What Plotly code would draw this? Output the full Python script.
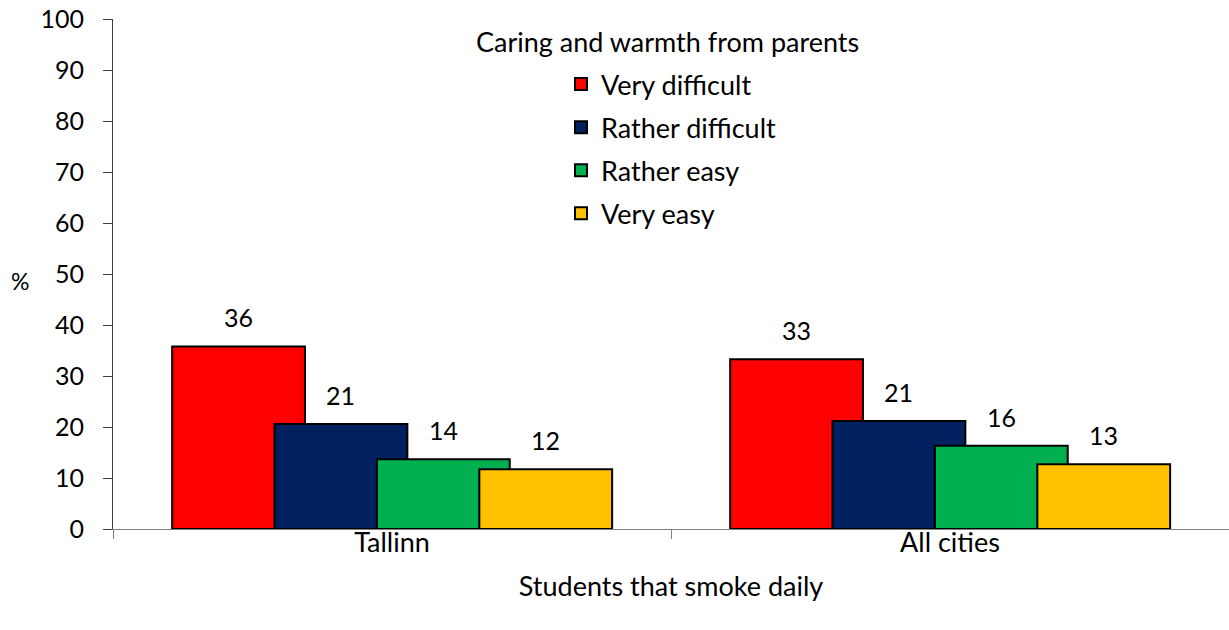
import plotly.graph_objects as go

categories = ["Tallinn", "All cities"]
series_names = ["Very difficult", "Rather difficult", "Rather easy", "Very easy"]
very_difficult = [35.8, 33.3]
rather_difficult = [20.6, 21.2]
rather_easy = [13.7, 16.3]
very_easy = [11.7, 12.7]
label_very_difficult = ["36", "33"]
label_rather_difficult = ["21", "21"]
label_rather_easy = ["14", "16"]
label_very_easy = ["12", "13"]

y_tick_values = list(range(0, 101, 10))
legend_title = "Caring and warmth from parents"
x_title = "Students that smoke daily"
y_title = "%"

values = [very_difficult, rather_difficult, rather_easy, very_easy]
labels = [label_very_difficult, label_rather_difficult, label_rather_easy, label_very_easy]
colors = ["#FF0000", "#002060", "#00B050", "#FFC000"]

FONT = "Lato"
FS_NUM = 25
FS_TXT = 27
bar_w = 0.238
step = 0.1835
start = -0.394

# page body margin is removed below, so the figure sits at (0, 0)
OFF = 0
PL, PT = 113, 19
W, H = 1229, 630
PB = 101
plot_w = W - PL
plot_h = H - PT - PB


def px_to_paper_x(px):
    return (px - OFF - PL) / plot_w


def px_to_paper_y(py):
    return (OFF + H - PB - py) / plot_h


fig = go.Figure()
annotations = []
for k, (name, vals, labs, col) in enumerate(zip(series_names, values, labels, colors)):
    off = start + k * step
    fig.add_trace(go.Bar(
        name=name, x=categories, y=vals,
        offset=off, width=bar_w,
        marker=dict(color=col, line=dict(color="black", width=2)),
        legendgroup=name,
    ))
    for i, (v, t) in enumerate(zip(vals, labs)):
        annotations.append(dict(
            x=i + off + bar_w / 2, y=v, xref="x", yref="y", text=t,
            showarrow=False, yanchor="middle", yshift=29,
            font=dict(family=FONT, size=FS_NUM, color="black"),
        ))

annotations.append(dict(
    x=px_to_paper_x(667), y=px_to_paper_y(42), xref="paper", yref="paper",
    text=legend_title, showarrow=False, xanchor="center", yanchor="middle",
    font=dict(family=FONT, size=FS_TXT, color="black"),
))
annotations.append(dict(
    x=px_to_paper_x(20), y=px_to_paper_y(281), xref="paper", yref="paper",
    text=y_title, showarrow=False, xanchor="center", yanchor="middle",
    font=dict(family=FONT, size=FS_NUM - 2, color="black"),
))

fig.update_layout(
    width=W, height=H,
    margin=dict(l=PL, r=0, t=PT, b=PB),
    paper_bgcolor="white", plot_bgcolor="white",
    barmode="overlay",
    font=dict(family=FONT, size=FS_TXT, color="black"),
    showlegend=True,
    legend=dict(
        x=px_to_paper_x(561), y=px_to_paper_y(60),
        xanchor="left", yanchor="top",
        font=dict(family=FONT, size=FS_TXT, color="black"),
        bgcolor="rgba(0,0,0,0)", tracegroupgap=5,
    ),
    annotations=annotations,
    xaxis=dict(
        type="category", range=[-0.5, 1.5],
        showline=True, linecolor="#808080", linewidth=1,
        ticks="outside", tickson="boundaries", ticklen=9, tickcolor="#808080",
        ticklabelstandoff=-10,
        tickfont=dict(family=FONT, size=FS_TXT),
        showgrid=False, zeroline=False,
        title=dict(text=x_title, font=dict(family=FONT, size=FS_TXT), standoff=19),
    ),
    yaxis=dict(
        range=[0, 100], tickvals=y_tick_values,
        showline=True, linecolor="#404040", linewidth=1,
        ticks="outside", ticklen=9, tickcolor="#404040",
        ticklabelstandoff=14, ticklabeloverflow="allow", automargin=False,
        tickfont=dict(family=FONT, size=FS_NUM),
        showgrid=False, zeroline=False,
    ),
)

fig.write_html(
    "out.html",
    config={"displayModeBar": False},
    post_script="document.body.style.margin='0';document.body.style.overflow='hidden';",
)
